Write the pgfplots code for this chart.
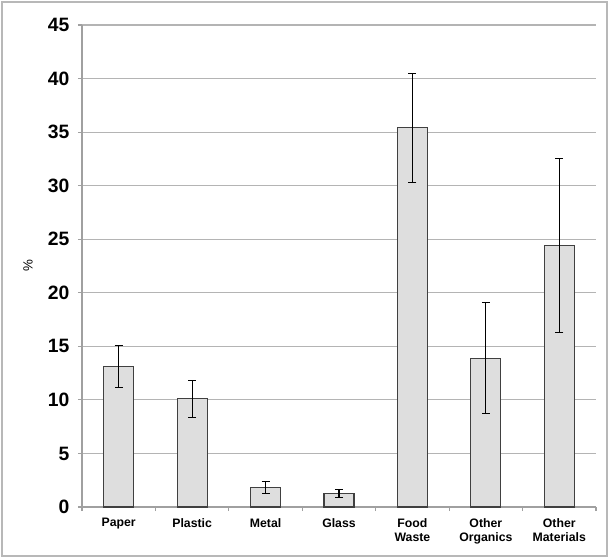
\documentclass[border=0pt]{standalone}
\usepackage{pgfplots}
\pgfplotsset{compat=1.18}
\usepackage{fontspec}
\setmainfont{Liberation Sans}
\definecolor{barfill}{HTML}{DEDEDE}
\definecolor{baredge}{HTML}{404040}
\definecolor{gridc}{HTML}{B4B4B4}
\definecolor{axisc}{HTML}{A0A0A0}
\definecolor{framec}{HTML}{B8B8B8}
\begin{document}
\begin{tikzpicture}[x=0.75pt,y=0.75pt]
\useasboundingbox (-82,-51) rectangle (527,507);
\begin{axis}[
  at={(0,0)}, anchor=south west,
  scale only axis, width=385.5pt, height=361.5pt,
  xmin=-0.5, xmax=6.5, ymin=0, ymax=45,
  axis lines*=left,
  axis line style={axisc, line width=0.8pt},
  ytick={0,5,...,45},
  ymajorgrids, grid style={gridc, line width=0.8pt},
  tick align=outside,
  major tick length=3pt,
  y tick style={axisc, line width=0.8pt},
  xtick={0,...,6},
  xticklabels={Paper,Plastic,Metal,Glass,Food\\Waste,Other\\Organics,Other\\Materials},
  major x tick style={draw=none},
  minor xtick={-0.5,0.5,...,6.5},
  minor tick length=3pt,
  minor x tick style={axisc, line width=0.8pt},
  /pgf/number format/assume math mode=true,
  yticklabel style={font=\fontsize{14.5}{16}\selectfont\bfseries, xshift=-3pt},
  xticklabel style={font=\fontsize{9.2}{10.5}\selectfont\bfseries, align=center, yshift=-2pt},
  ylabel={\%},
  ylabel style={at={(axis description cs:-0.105,0.5)}, anchor=center, rotate=0, font=\fontsize{10}{12}\selectfont},
  clip=false,
]
\addplot[ybar, bar width=22.5pt, fill=barfill, draw=baredge, line width=0.8pt,
  error bars/.cd, y dir=both, y explicit,
  error bar style={black, line width=0.8pt},
  error mark options={rotate=90, mark size=3pt, black, line width=0.8pt}]
coordinates {
  (0,13.1) +- (0,1.95)
  (1,10.1) +- (0,1.75)
  (2,1.8) +- (0,0.55)
  (3,1.25) +- (0,0.4)
  (4,35.4) +- (0,5.1)
  (5,13.9) +- (0,5.2)
  (6,24.4) +- (0,8.1)
};
\end{axis}
\draw[framec, line width=2pt] (-80,-49) rectangle (525,505);
\end{tikzpicture}
\end{document}
